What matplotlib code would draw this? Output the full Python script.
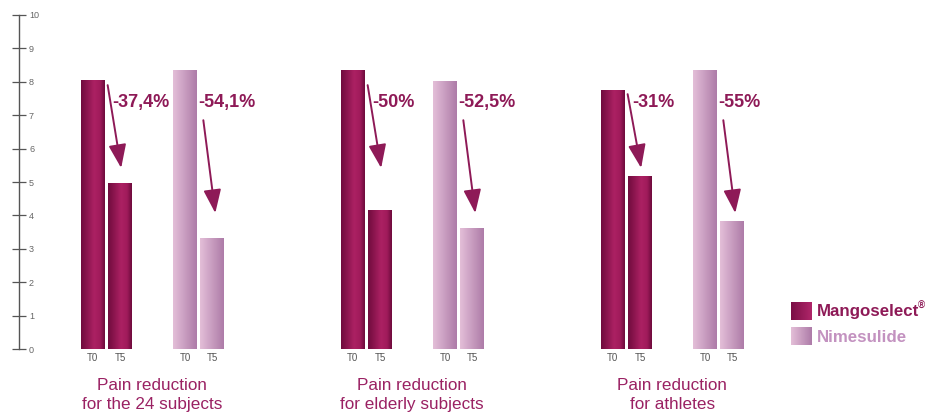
import numpy as np
import matplotlib
matplotlib.use("Agg")
import matplotlib.pyplot as plt
from matplotlib.colors import LinearSegmentedColormap

# ---- data ----
groups = ["Pain reduction\nfor the 24 subjects",
          "Pain reduction\nfor elderly subjects",
          "Pain reduction\nfor athletes"]
mango_t0 = [8.05, 8.33, 7.73]
mango_t5 = [4.97, 4.14, 5.16]
nime_t0 = [8.33, 8.00, 8.35]
nime_t5 = [3.32, 3.62, 3.81]
mango_pct = ["-37,4%", "-50%", "-31%"]
nime_pct = ["-54,1%", "-52,5%", "-55%"]
time_labels = ["T0", "T5"]
series_names = ["Mangoselect", "Nimesulide"]
yticks = list(range(0, 11))

# ---- style ----
plt.rcParams['font.family'] = ['Liberation Sans', 'DejaVu Sans']
mango_cmap = LinearSegmentedColormap.from_list(
    "mango", [(0, "#6f0b3d"), (0.55, "#ac2163"), (0.8, "#a01b5b"), (1, "#6c0a3b")])
nime_cmap = LinearSegmentedColormap.from_list(
    "nime", [(0, "#e4bfd8"), (1, "#ad7ba8")])
pct_color = "#8e1a57"
title_color = "#9a2163"
nime_text = "#c392c0"

W, H = 930, 415
fig = plt.figure(figsize=(W / 100, H / 100), dpi=100)
ax = fig.add_axes([19 / W, (H - 349) / H, 1 - 19 / W, 334 / H])
ax.set_ylim(0, 10)
xmin, xmax = -0.512, 2.992
ax.set_xlim(xmin, xmax)

bw = 0.092
offs = [-0.229, -0.123, 0.127, 0.231]
grad = np.linspace(0, 1, 256).reshape(1, -1)

def gbar(x, h, cmap):
    ax.imshow(grad, extent=(x - bw / 2, x + bw / 2, 0, h), aspect='auto',
              cmap=cmap, interpolation='bicubic', zorder=2)

xt, xl = [], []
for i in range(len(groups)):
    xs = [i + o for o in offs]
    vals = [mango_t0[i], mango_t5[i], nime_t0[i], nime_t5[i]]
    cms = [mango_cmap, mango_cmap, nime_cmap, nime_cmap]
    for x, v, cm in zip(xs, vals, cms):
        gbar(x, v, cm)
    xt += xs
    xl += time_labels * 2
    # percentage labels
    ax.text(xs[1] - bw / 2 + 0.016, 7.37, mango_pct[i], color=pct_color,
            fontsize=13, fontweight='bold', ha='left', va='center', zorder=4)
    ax.text(xs[3] - bw / 2 - 0.006, 7.37, nime_pct[i], color=pct_color,
            fontsize=13, fontweight='bold', ha='left', va='center', zorder=4)
    # arrows
    ap = dict(arrowstyle='-|>,head_length=1.2,head_width=0.45', lw=1.4,
              color=pct_color, shrinkA=0, shrinkB=0, mutation_scale=12)
    ax.annotate('', xy=(xs[1] + 0.004, 5.42),
                xytext=(xs[0] + bw / 2 + 0.012, min(mango_t0[i], 8.0) - 0.1),
                arrowprops=ap, zorder=5)
    ax.annotate('', xy=(xs[3] + 0.012, 4.07),
                xytext=(xs[3] - bw / 2 + 0.012, 6.85),
                arrowprops=ap, zorder=5)
    # group title
    ax.text(i, -1.38, groups[i], color=title_color, fontsize=12.3,
            ha='center', va='center', linespacing=1.28, clip_on=False)

ax.set_xlim(xmin, xmax)
ax.set_ylim(0, 10)
ax.set_xticks(xt)
ax.set_xticklabels(xl)
ax.tick_params(axis='x', length=0, pad=3, labelsize=7, labelcolor='#555555')

ax.set_yticks(yticks)
ax.set_yticklabels([str(t) for t in yticks])
ax.tick_params(axis='y', direction='inout', length=10, width=0.9,
               color='#555555', labelsize=6.5, labelcolor='#666666', pad=-12.2)
for lab in ax.get_yticklabels():
    lab.set_ha('left')

for s in ['top', 'right', 'bottom']:
    ax.spines[s].set_visible(False)
ax.spines['left'].set_color('#555555')
ax.spines['left'].set_linewidth(1.0)
ax.patch.set_alpha(0)

# legend
for k, (cm, yc) in enumerate([(mango_cmap, 311), (nime_cmap, 336)]):
    lax = fig.add_axes([791 / W, (H - yc - 9.5) / H, 21 / W, 19 / H])
    lax.imshow(grad, aspect='auto', cmap=cm if k else LinearSegmentedColormap.from_list(
        "ml", ["#7a0e45", "#b0266a"]), interpolation='bicubic')
    lax.axis('off')
fig.text(817 / W, 1 - 311 / H, series_names[0], color=pct_color, fontsize=12.2,
         fontweight='bold', ha='left', va='center')
fig.text(918 / W, 1 - 306 / H, "®", color=pct_color, fontsize=7,
         fontweight='bold', ha='left', va='center')
fig.text(817 / W, 1 - 337 / H, series_names[1], color=nime_text, fontsize=12.2,
         fontweight='bold', ha='left', va='center')

fig.savefig("out.png", dpi=100)
